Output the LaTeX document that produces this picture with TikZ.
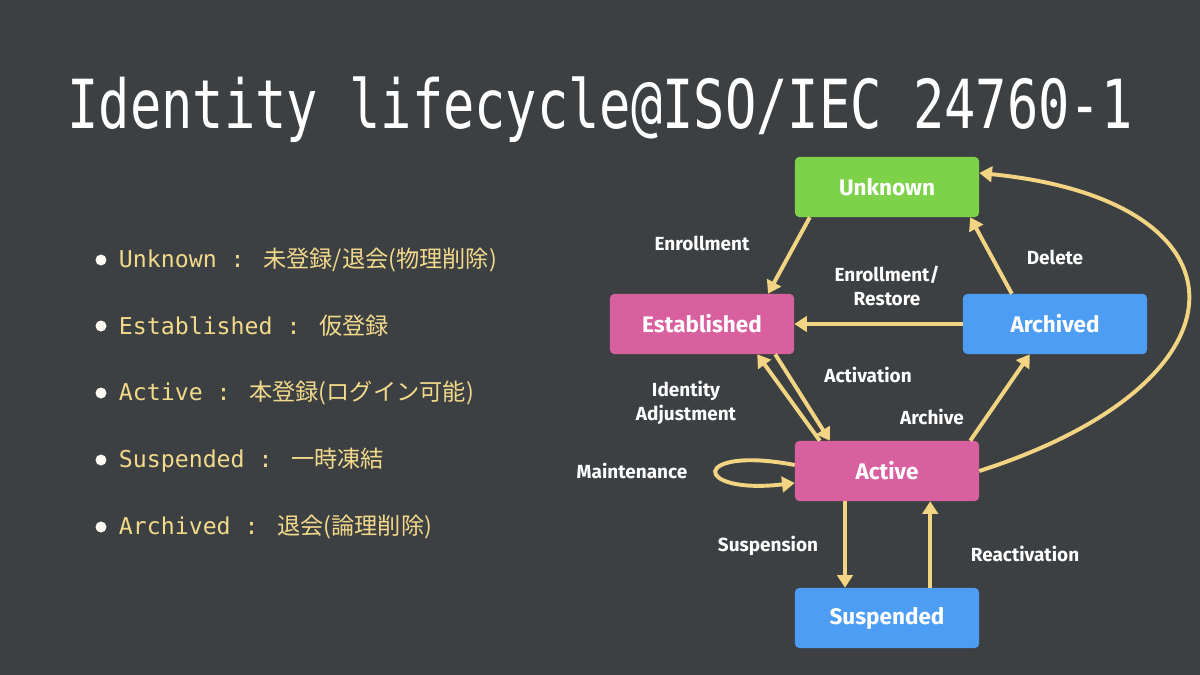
\documentclass[tikz,border=0pt]{standalone}
\usepackage{fontspec}
\setmainfont{DejaVu Sans Mono}
\newfontfamily\cjk{Noto Sans CJK JP}
\newfontfamily\labfont{Fira Sans}
\usetikzlibrary{positioning,arrows.meta}
\definecolor{board}{HTML}{3C4043}
\definecolor{chalk}{HTML}{F3D482}
\definecolor{bultext}{HTML}{F3D98A}
\definecolor{stgreen}{HTML}{7DD24A}
\definecolor{stpink}{HTML}{D9609F}
\definecolor{stblue}{HTML}{4C9DF3}

\begin{document}
\begin{tikzpicture}[x=0.025cm,y=-0.025cm]
        \tikzstyle{state}=[rounded corners=3pt,minimum width=4.6cm,minimum height=1.5cm,inner sep=0pt,text=white,font=\labfont\bfseries\fontsize{16}{18}\selectfont]
        \tikzstyle{trans}=[chalk,line width=2.8pt,-{Triangle[length=9pt,width=11pt]}]
        \tikzstyle{lab}=[text=white,font=\labfont\bfseries\fontsize{13.5}{17}\selectfont,align=center]
        \tikzstyle{item}=[anchor=west,text=bultext,font=\fontsize{16.5}{20}\selectfont]

        \useasboundingbox (0,0) rectangle (1200,675);
        \fill[board] (0,0) rectangle (1200,675);

        \node[text=white,font=\fontsize{37}{40}\selectfont,yscale=1.3] (title) at (600,110) {Identity lifecycle@ISO/IEC 24760-1};

        \foreach \yy/\txt [count=\i] in {260/{Unknown : {\cjk 未登録/退会(物理削除)}},
                326/{Established : {\cjk 仮登録}},
                393/{Active : {\cjk 本登録(ログイン可能)}},
                460/{Suspended : {\cjk 一時凍結}},
                527/{Archived : {\cjk 退会(論理削除)}}} {
            \fill[white!90!bultext] (101,\yy) circle (5.5);
            \node[item] (item\i) at (114,\yy) {\txt};
        }

        \node[state,fill=stgreen] (unknown) at (887,187) {Unknown};
        \node[state,fill=stpink] (established) at (702,324) {Established};
        \node[state,fill=stblue] (archived) at (1055,324) {Archived};
        \node[state,fill=stpink] (active) at (887,471) {Active};
        \node[state,fill=stblue] (suspended) at (887,618) {Suspended};

        \draw[trans] ([xshift=-1.93cm]unknown.south) -- ([xshift=1.65cm]established.north);
        \draw[trans] (archived.west) -- (established.east);
        \draw[trans] ([xshift=-1.08cm]archived.north) -- ([xshift=2.08cm]unknown.south);
        \draw[trans] ([xshift=1.83cm]established.south) -- ([xshift=-1.43cm]active.north);
        \draw[trans] ([xshift=-1.68cm]active.north) -- ([xshift=1.38cm]established.south);
        \draw[trans] ([xshift=2.08cm]active.north) -- ([xshift=-0.63cm]archived.south);
        \draw[trans] (active.east) .. controls +(7cm,2.25cm) and +(6.9cm,-0.68cm) .. ([yshift=0.35cm]unknown.east);
        \draw[trans] ([yshift=0.15cm]active.west) .. controls +(-2.6cm,0.5cm) and +(-2.6cm,-0.3cm) .. ([yshift=-0.3cm]active.west);
        \draw[trans] ([xshift=-1.05cm]active.south) -- ([xshift=-1.05cm]suspended.north);
        \draw[trans] ([xshift=1.08cm]suspended.north) -- ([xshift=1.08cm]active.south);

        \node[lab] (l1) at (702,243) {Enrollment};
        \node[lab] (l2) at (887,286) {Enrollment/\\Restore};
        \node[lab] (l3) at (1055,257) {Delete};
        \node[lab] (l4) at (868,375) {Activation};
        \node[lab] (l5) at (686,403) {Identity\\Adjustment};
        \node[lab] (l6) at (932,417) {Archive};
        \node[lab] (l7) at (632,471) {Maintenance};
        \node[lab] (l8) at (768,546) {Suspension};
        \node[lab] (l9) at (1025,554) {Reactivation};
    \end{tikzpicture}
\end{document}
